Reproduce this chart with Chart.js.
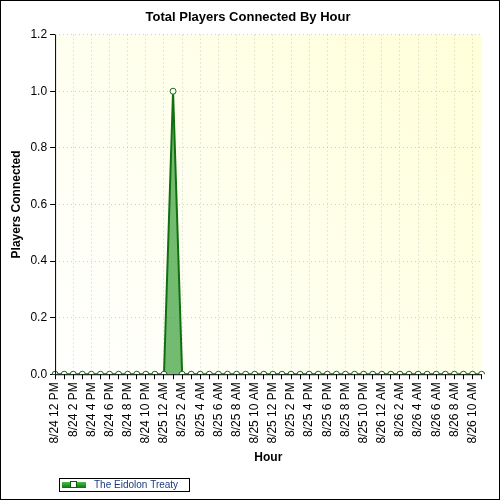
<!DOCTYPE html>
<html><head><script src="https://cdn.jsdelivr.net/npm/chart.js@4"></script>
<style>body{margin:0;background:#fff}#w{position:absolute;left:0;top:0;width:498px;height:498px;border:1px solid #000}</style></head>
<body><div id="w"><canvas id="c" width="498" height="498"></canvas></div>
<script>
const hours=[];
(function(){const ds=['8/24','8/25','8/26'];for(let d=0;d<3;d++)for(let h=0;h<24;h++){if(d===0&&h<12)continue;if(d===2&&h>11)continue;const hh=h%12===0?12:h%12;hours.push(ds[d]+' '+hh+' '+(h<12?'AM':'PM'));}})();
const players=hours.map(()=>0);
players[hours.indexOf('8/25 1 AM')]=1;
const yTicks=[0,0.2,0.4,0.6,0.8,1.0,1.2];
const bg={id:'bg',beforeDraw(ch){const a=ch.chartArea,x=ch.ctx;const g=x.createLinearGradient(a.left,a.bottom,a.right,a.top);g.addColorStop(0,'#ffffff');g.addColorStop(1,'#ffffd8');x.save();x.fillStyle=g;x.fillRect(a.left,a.top,a.right-a.left,a.bottom-a.top);x.restore();},
afterDraw(ch){const a=ch.chartArea,x=ch.ctx;x.save();x.strokeStyle='#000';x.lineWidth=1;x.beginPath();x.moveTo(a.left+0.5,a.top);x.lineTo(a.left+0.5,a.bottom+0.5);x.lineTo(a.right,a.bottom+0.5);x.stroke();
x.strokeRect(58.5,477.5,130,13);const gg=x.createLinearGradient(0,480,0,488);gg.addColorStop(0,'#5c5');gg.addColorStop(1,'#060');x.fillStyle=gg;x.fillRect(61,481,24,6);x.fillStyle='#fff';x.strokeStyle='#060';x.fillRect(69,480,7,7);x.strokeRect(69.5,480.5,6,6);
x.fillStyle='#1a3a80';x.font='10px "Liberation Sans"';x.textBaseline='middle';x.fillText('The Eidolon Treaty',93,484.5);x.restore();}};
new Chart(document.getElementById('c'),{type:'line',data:{labels:hours,datasets:[{data:players,borderColor:'#107010',borderWidth:2,fill:true,backgroundColor:'rgba(40,150,40,0.65)',pointRadius:3,pointBackgroundColor:'#fff',pointBorderColor:'#107010',pointBorderWidth:1,tension:0}]},
options:{responsive:false,animation:false,layout:{padding:{left:4,right:8,bottom:30}},
plugins:{legend:{display:false},tooltip:{enabled:false},title:{display:true,text:'Total Players Connected By Hour',color:'#000',font:{family:'Liberation Sans',size:13,weight:'bold'},padding:{top:9,bottom:9}}},
scales:{x:{offset:false,grid:{drawOnChartArea:true,color:(c)=>c.index%2===0?'rgba(150,150,150,0.45)':'rgba(0,0,0,0)',lineWidth:1,tickColor:'#000',tickLength:5},border:{display:false,dash:[1,3]},ticks:{autoSkip:false,maxRotation:90,minRotation:90,color:'#000',font:{family:'Liberation Sans',size:12},callback:(v,i)=>i%2===0?hours[i]:''},title:{display:true,text:'Hour',color:'#000',font:{family:'Liberation Sans',size:12,weight:'bold'}}},
y:{min:0,max:1.2,grid:{color:'rgba(150,150,150,0.45)',tickColor:'#000',tickLength:5},border:{display:false,dash:[1,3]},afterBuildTicks:(s)=>{s.ticks=yTicks.map(v=>({value:v}));},ticks:{color:'#000',font:{family:'Liberation Sans',size:12},callback:v=>v.toFixed(1)},title:{display:true,text:'Players Connected',color:'#000',font:{family:'Liberation Sans',size:12,weight:'bold'}}}}},plugins:[bg]});
</script></body></html>
